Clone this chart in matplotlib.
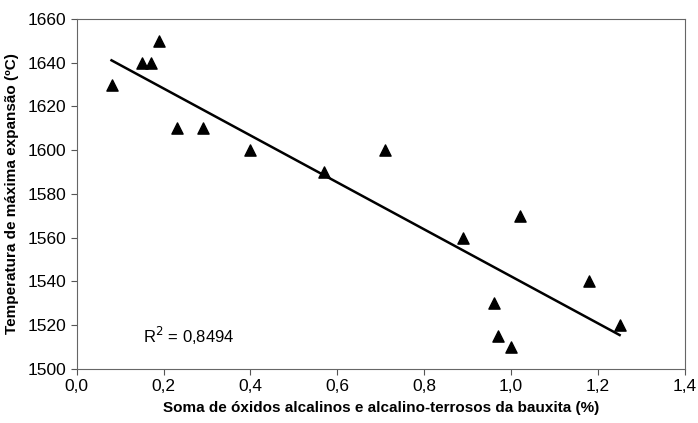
import numpy as np
import matplotlib
matplotlib.use('Agg')
import matplotlib.pyplot as plt

plt.rcParams['font.family'] = ['Liberation Sans', 'DejaVu Sans']

# soma de oxidos (%) x temperatura (C)
oxidos = [0.08, 0.15, 0.17, 0.19, 0.23, 0.29, 0.40, 0.57, 0.71,
          0.89, 0.96, 0.97, 1.00, 1.02, 1.18, 1.25]
temperatura = [1630, 1640, 1640, 1650, 1610, 1610, 1600, 1590, 1600,
               1560, 1530, 1515, 1510, 1570, 1540, 1520]
xticks = [0.0, 0.2, 0.4, 0.6, 0.8, 1.0, 1.2, 1.4]
yticks = [1500, 1520, 1540, 1560, 1580, 1600, 1620, 1640, 1660]

x = np.array(oxidos)
y = np.array(temperatura)
a, b = np.polyfit(x, y, 1)
xl = np.array([x.min(), x.max()])

fig = plt.figure(figsize=(6.98, 4.23), dpi=100)
ax = fig.add_axes([0.110, 0.128, 0.871, 0.827])

ax.plot(xl, a * xl + b, color='black', lw=1.8)
ax.scatter(x, y, marker='^', s=65, color='black', zorder=3)

ax.set_xlim(0, 1.4)
ax.set_ylim(1500, 1660)
ax.set_xticks(xticks)
ax.set_yticks(yticks)
ax.set_xticklabels([f'{t:.1f}'.replace('.', ',') for t in xticks], fontsize=12.5)
ax.set_yticklabels([str(t) for t in yticks], fontsize=12.5)
ax.tick_params(direction='out', length=4, color='#555555')
for s in ax.spines.values():
    s.set_color('#666666')
    s.set_linewidth(0.8)

ax.set_xlabel('Soma de óxidos alcalinos e alcalino-terrosos da bauxita (%)',
              fontsize=11, fontweight='bold', labelpad=5)
ax.set_ylabel('Temperatura de máxima expansão (ºC)',
              fontsize=11, fontweight='bold', labelpad=6)

ax.text(0.152, 1515, 'R$^2$ = 0,8494', fontsize=12, va='center')

fig.savefig('out.png', dpi=100)
